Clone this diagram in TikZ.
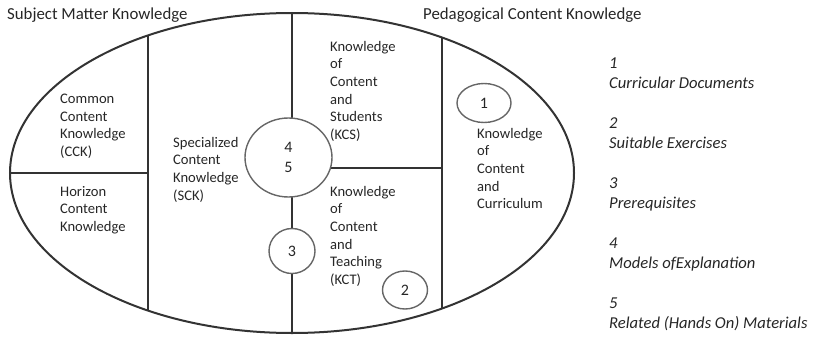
\documentclass[tikz,border=0pt]{standalone}
\usepackage{fontspec}
\setmainfont{Carlito}
\usetikzlibrary{shapes.geometric}
\begin{document}
\begin{tikzpicture}[x=1pt,y=-1pt,every node/.style={inner sep=0pt,text=black!85},
	part/.style={anchor=north west,align=left,font=\fontsize{14.6}{17.6}\selectfont},
	title/.style={anchor=base west,font=\fontsize{16.8}{20}\selectfont},
	ring/.style={draw=black!60,line width=1.4pt,fill=white,ellipse,font=\fontsize{16}{19.5}\selectfont,align=center},
	divider/.style={draw=black!80,line width=2.3pt}]
	\useasboundingbox (0,0) rectangle (813,337);
	% dividers inside the oval
	\begin{scope}
		\clip (292,173) ellipse [x radius=282,y radius=160];
		\coordinate (a1) at (148,0);
		\coordinate (a2) at (148,337);
		\coordinate (b1) at (292,0);
		\coordinate (b2) at (292,337);
		\coordinate (c1) at (442,0);
		\coordinate (c2) at (442,337);
		\coordinate (d1) at (0,173);
		\coordinate (d2) at (148,173);
		\coordinate (e1) at (292,168);
		\coordinate (e2) at (442,168);
		\draw[divider] (a1)--(a2);
		\draw[divider] (b1)--(b2);
		\draw[divider] (c1)--(c2);
		\draw[divider] (d1)--(d2);
		\draw[divider] (e1)--(e2);
	\end{scope}
	\node[draw=black!80,line width=2pt,ellipse,minimum width=564,minimum height=320] (oval) at (292,173) {};
	% numbered rings
	\node[ring,minimum width=87,minimum height=79] (r45) at (288.5,157.5) {4\\5};
	\node[ring,minimum width=46,minimum height=45] (r3) at (292,251) {3};
	\node[ring,minimum width=45,minimum height=38] (r2) at (405,290) {2};
	\node[ring,minimum width=54,minimum height=39,fill=none] (r1) at (484,103) {1};
	% parts
	\node[part] (cck) at (60,94) {Common\\Content\\Knowledge\\(CCK)};
	\node[part] (hck) at (60,186) {Horizon\\Content\\Knowledge};
	\node[part] (sck) at (173,137) {Specialized\\Content\\Knowledge\\(SCK)};
	\node[part] (kcs) at (330,41) {Knowledge\\of\\Content\\and\\Students\\(KCS)};
	\node[part] (kct) at (330,186) {Knowledge\\of\\Content\\and\\Teaching\\(KCT)};
	\node[part] (kcc) at (477,128) {Knowledge\\of\\Content\\and\\Curriculum};
	% titles
	\node[title] (smk) at (7,20) {Subject Matter Knowledge};
	\node[title] (pck) at (423,20) {Pedagogical Content Knowledge};
	% legend
	\foreach \i/\t in {1/Curricular Documents,2/Suitable Exercises,3/Prerequisites,4/Models ofExplanation,5/Related (Hands On) Materials}{
		\node[anchor=north west,align=left,font=\fontsize{16.6}{19.5}\selectfont\itshape] (l\i) at (609,{-2+60*\i}) {\i\\\t};
	}
\end{tikzpicture}
\end{document}
